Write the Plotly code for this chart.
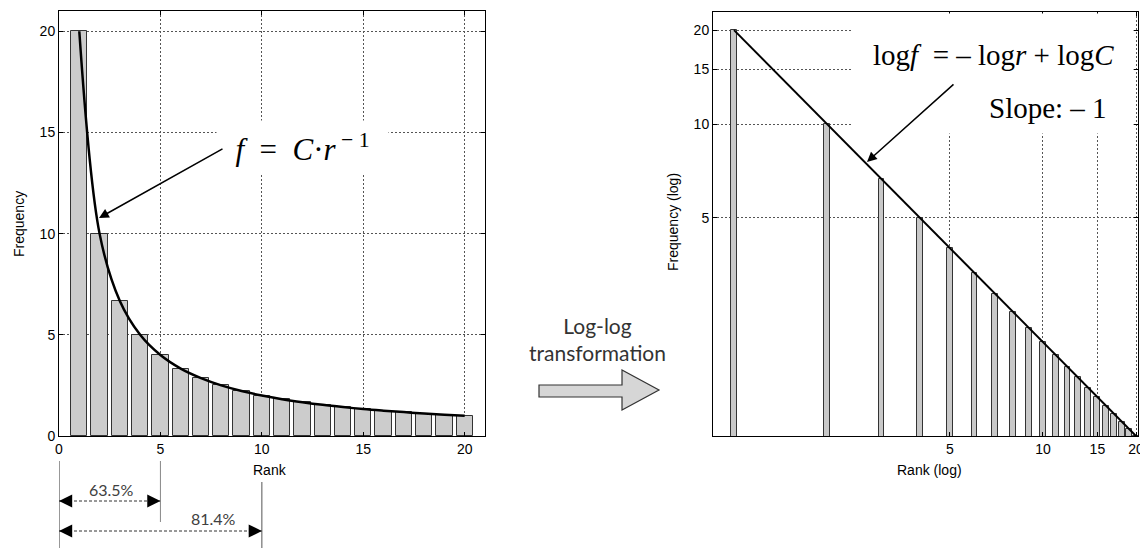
import plotly.graph_objects as go

OFF = 8            # page body margin of the browser
W, H = 1148 - OFF, 548 - OFF

# ---- data ----
ranks = list(range(1, 21))
freq = [20, 10, 6.67, 5, 4, 3.33, 2.86, 2.5, 2.22, 2.0,
        1.82, 1.67, 1.54, 1.43, 1.33, 1.25, 1.18, 1.11, 1.05, 1.0]
left_xticks = [0, 5, 10, 15, 20]
left_yticks = [0, 5, 10, 15, 20]
right_xticks = [5, 10, 15, 20]
right_yticks = [5, 10, 15, 20]
pct_ranks = [5, 10]
pct_labels = ["63.5%", "81.4%"]
pct_label_x = [2.6, 7.6]


def px(x):
    return (x - OFF) / W


def py(y):
    return 1 - (y - OFF) / H


TICKFONT = dict(family="Liberation Sans, Arial", size=14, color="black")
SERIF = "Liberation Serif, Times New Roman"
SANS2 = "Lato, Open Sans"
GRID = dict(showgrid=True, gridcolor="#555555", griddash="2px,2px", gridwidth=1,
            showline=True, linecolor="black", linewidth=1, mirror="ticks",
            ticks="inside", ticklen=4, tickcolor="black", zeroline=False,
            tickfont=TICKFONT, automargin=False, fixedrange=True)

fig = go.Figure()

# Left: linear bars + curve
fig.add_trace(go.Bar(x=ranks, y=freq, width=0.8, xaxis="x", yaxis="y",
                     marker=dict(color="#cccccc", line=dict(color="#333333", width=1))))
fig.add_trace(go.Scatter(x=ranks, y=freq, mode="lines", xaxis="x", yaxis="y",
                         line=dict(color="black", width=2.5, shape="spline")))

# Right: log-log bars + line
fig.add_trace(go.Bar(x=ranks, y=freq, width=[0.043 * r for r in ranks], xaxis="x2", yaxis="y2",
                     marker=dict(color="#c8c8c8", line=dict(color="#333333", width=1))))
fig.add_trace(go.Scatter(x=ranks, y=freq, mode="lines", xaxis="x2", yaxis="y2",
                         line=dict(color="black", width=2)))

fig.update_layout(
    width=W, height=H, margin=dict(l=0, r=0, t=0, b=0, autoexpand=False),
    paper_bgcolor="white", plot_bgcolor="white", showlegend=False, bargap=0,
    xaxis=dict(domain=[px(59), px(485)], range=[0, 21], tickvals=left_xticks,
               anchor="y", **GRID),
    yaxis=dict(domain=[py(436), py(11)], range=[0, 21], tickvals=left_yticks, anchor="x", **GRID),
    xaxis2=dict(type="log", domain=[px(713), px(1138)], range=[-0.068, 1.3075],
                tickvals=right_xticks, anchor="y2", **GRID),
    yaxis2=dict(type="log", domain=[py(436), py(12)], range=[0, 1.359],
                tickvals=right_yticks, anchor="x2", **GRID),
)

ann = []
# axis titles
ann.append(dict(text="Frequency", x=px(19), y=py(224), textangle=-90, font=TICKFONT))
ann.append(dict(text="Rank", x=px(270), y=py(470), font=TICKFONT))
ann.append(dict(text="Frequency (log)", x=px(673), y=py(222), textangle=-90, font=TICKFONT))
ann.append(dict(text="Rank (log)", x=px(929), y=py(470), font=TICKFONT))

# left formula (white box hides the grid)
ann.append(dict(text="<i>f</i>&nbsp; =&nbsp; <i>C</i>·<i>r</i><sup> − 1</sup>", x=px(302), y=py(147),
                width=165, height=47, borderpad=3, bgcolor="white",
                font=dict(family=SERIF, size=31, color="black")))
# left arrow
ann.append(dict(text="", x=px(99), y=py(218), showarrow=True, ax=125, ay=-70,
                axref="pixel", ayref="pixel", arrowhead=2, arrowsize=1.3,
                arrowwidth=1.5, arrowcolor="black"))

# right mask + formulas
ann.append(dict(text=" ", x=px(993), y=py(73.5), width=280, height=119, borderpad=0,
                bgcolor="white", font=dict(size=10)))
ann.append(dict(text="log<i>f</i>&nbsp; = – log<i>r</i> + log<i>C</i>", x=px(993), y=py(55),
                font=dict(family=SERIF, size=29, color="black")))
ann.append(dict(text="Slope: – 1", x=px(1048), y=py(108),
                font=dict(family=SERIF, size=29, color="black")))
ann.append(dict(text="", x=px(867), y=py(162), showarrow=True, ax=88, ay=-79,
                axref="pixel", ayref="pixel", arrowhead=2, arrowsize=1.3,
                arrowwidth=1.5, arrowcolor="black"))

# middle label
ann.append(dict(text="Log-log<br>transformation", x=px(597), y=py(339),
                font=dict(family=SANS2, size=21, color="#333333")))

# percentage labels and arrowheads
pct_y = [501, 531]
pct_text_y = [489, 518]
shapes = []
for r, lab, lx, yy, ty in zip(pct_ranks, pct_labels, pct_label_x, pct_y, pct_text_y):
    ann.append(dict(text=lab, x=lx, xref="x", y=py(ty), yref="paper",
                    font=dict(family=SANS2, size=16, color="#404040")))
    shapes.append(dict(type="line", xref="x", yref="paper", x0=0, x1=r, y0=py(yy), y1=py(yy),
                       line=dict(color="#333333", width=1, dash="3px,2px")))
    ann.append(dict(text="", x=0, xref="x", y=py(yy), yref="paper", showarrow=True,
                    ax=12, ay=0, axref="pixel", ayref="pixel", arrowhead=2, arrowsize=2.2,
                    arrowwidth=1.2, arrowcolor="black"))
    ann.append(dict(text="", x=r, xref="x", y=py(yy), yref="paper", showarrow=True,
                    ax=-12, ay=0, axref="pixel", ayref="pixel", arrowhead=2, arrowsize=2.2,
                    arrowwidth=1.2, arrowcolor="black"))

# vertical extension lines
shapes.append(dict(type="line", xref="x", yref="paper", x0=0, x1=0, y0=py(461), y1=py(548),
                   line=dict(color="#333333", width=1)))
shapes.append(dict(type="line", xref="x", yref="paper", x0=pct_ranks[0], x1=pct_ranks[0],
                   y0=py(461), y1=py(522), line=dict(color="#888888", width=1)))
shapes.append(dict(type="line", xref="x", yref="paper", x0=pct_ranks[1], x1=pct_ranks[1],
                   y0=py(482), y1=py(548), line=dict(color="#555555", width=1)))

# big block arrow in the middle
pts = [(539, 385), (622, 385), (622, 370), (659, 390), (622, 410), (622, 397), (539, 397)]
path = "M " + " L ".join(f"{px(a):.5f},{py(b):.5f}" for a, b in pts) + " Z"
shapes.append(dict(type="path", xref="paper", yref="paper", path=path,
                   fillcolor="#d6d6d6", line=dict(color="#333333", width=1.2)))

for a in ann:
    a.setdefault("xref", "paper")
    a.setdefault("yref", "paper")
    a.setdefault("showarrow", False)
    a.setdefault("xanchor", "center")
    a.setdefault("yanchor", "middle")
fig.update_layout(annotations=ann, shapes=shapes)

fig.write_html("out.html", config={"displayModeBar": False})
